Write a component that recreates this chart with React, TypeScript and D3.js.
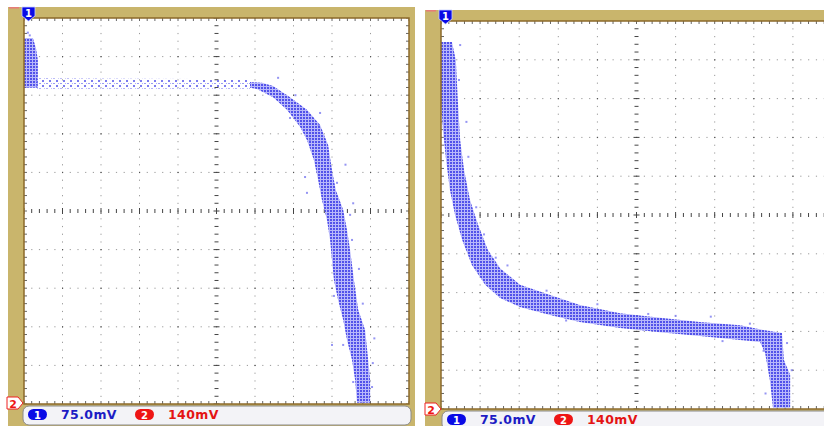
import React from 'react';
import * as d3 from 'd3';

type Pt = [number, number];

// Status bar: channel numbers and volts/div
const channelNames = ['1', '2'];
const channelScales = ['75.0mV', '140mV'];

// ---- Left screenshot (XY trace), coordinates in divisions (x: ch1, y: ch2) ----
const leftBlock: Pt[] = [
  [-5.0, 4.48], [-4.77, 4.48], [-4.69, 4.22], [-4.64, 3.91], [-4.64, 3.19], [-5.0, 3.19],
];
const leftPlateau: Pt[] = [
  [-4.69, 3.44], [0.87, 3.41], [0.87, 3.17], [-4.69, 3.17],
];
const leftCurve: Pt[] = [
  [0.87, 3.34], [1.18, 3.32], [1.47, 3.24], [1.91, 2.95], [2.35, 2.62], [2.69, 2.23],
  [2.9, 1.71], [3.0, 1.06], [3.1, 0.54], [3.29, 0.03], [3.39, -0.49], [3.47, -1.01],
  [3.57, -1.79], [3.68, -2.56], [3.86, -3.08], [3.94, -3.86], [3.99, -4.38], [3.99, -4.97],
  [3.65, -4.97], [3.6, -4.38], [3.52, -3.86], [3.39, -3.34], [3.29, -2.82], [3.16, -2.31],
  [3.05, -1.79], [3.0, -1.27], [2.95, -0.75], [2.87, -0.23], [2.74, 0.28], [2.64, 0.8],
  [2.53, 1.32], [2.35, 1.84], [2.17, 2.18], [1.83, 2.62], [1.47, 2.95], [1.05, 3.16], [0.87, 3.19],
];
const leftStrays: Pt[] = [
  [2.69, 2.54], [2.66, 2.23], [2.35, 0.47], [2.3, 0.88], [3.13, 0.73], [3.0, -3.47],
  [3.29, -3.47], [4.06, -3.94], [3.55, -4.43], [4.04, -4.56], [3.47, -0.1], [3.52, -0.75],
  [2.43, 1.84], [1.91, 2.41], [-4.9, 4.62], [-4.85, 4.55], [1.6, 3.45], [2.05, 3.0],
  [3.35, 1.2], [3.55, 0.2], [3.7, -1.5], [3.05, -2.2], [3.8, -2.4], [4.1, -3.3],
];

// ---- Right screenshot ----
const rightCurve: Pt[] = [
  [-5.0, 4.46], [-4.72, 4.46], [-4.62, 3.99], [-4.57, 2.96], [-4.51, 1.93], [-4.41, 1.16],
  [-4.26, 0.39], [-4.05, -0.26], [-3.8, -0.9], [-3.49, -1.37], [-2.98, -1.8], [-2.21, -2.06],
  [-1.45, -2.32], [-0.42, -2.53], [0.6, -2.65], [1.62, -2.76], [2.65, -2.84], [3.21, -2.96],
  [3.72, -3.04], [3.77, -3.74], [3.93, -4.12], [3.93, -4.97],
  [3.49, -4.97], [3.41, -4.25], [3.29, -3.56], [3.16, -3.27], [2.65, -3.22], [1.62, -3.12],
  [0.6, -3.02], [-0.42, -2.91], [-1.45, -2.76], [-2.21, -2.58], [-2.98, -2.37], [-3.49, -2.14],
  [-3.87, -1.8], [-4.21, -1.29], [-4.46, -0.64], [-4.64, 0.0], [-4.77, 0.64], [-4.87, 1.42],
  [-4.95, 2.19], [-5.0, 2.96],
];
const rightStrays: Pt[] = [
  [-4.51, 4.38], [-4.54, 3.48], [-4.3, 1.5], [-3.9, -0.5], [-3.3, -1.3], [-2.6, -2.2],
  [-1.0, -2.3], [0.3, -2.55], [1.9, -2.62], [3.85, -3.3], [3.97, -4.0], [3.3, -4.6],
  [-4.4, 0.9], [-3.6, -1.1], [2.2, -3.25], [-1.8, -2.72], [-4.35, 2.4], [-4.1, 0.2],
  [-2.3, -1.95], [1.0, -2.6], [2.9, -2.8], [3.25, -3.5],
];

interface Layout {
  ox: number; oy: number; ow: number; oh: number;
  px: number; py: number; pw: number; ph: number;
  sx: number; sy: number; sw: number;
  m1x: number; m1y: number; m2x: number; m2y: number;
}

const layouts: Layout[] = [
  { ox: 8, oy: 7, ow: 407, oh: 419, px: 24, py: 18, pw: 385, ph: 386, sx: 23, sy: 406, sw: 388, m1x: 22, m1y: 7, m2x: 7, m2y: 397 },
  { ox: 425, oy: 10, ow: 420, oh: 416, px: 441, py: 21, pw: 391, ph: 388, sx: 442, sy: 411, sw: 400, m1x: 439, m1y: 10, m2x: 425, m2y: 403 },
];

const TAN = '#c9b56c';
const BROWN = '#8c6a2a';

function Panel({ idx, bands, strays }: { idx: number; bands: { pts: Pt[]; fill: string }[]; strays: Pt[] }) {
  const L = layouts[idx];
  const x = d3.scaleLinear().domain([-5, 5]).range([L.px, L.px + L.pw]);
  const y = d3.scaleLinear().domain([-5, 5]).range([L.py + L.ph, L.py]);
  const line = d3.line<Pt>().x(d => x(d[0])).y(d => y(d[1])).curve(d3.curveLinearClosed);
  const subs = d3.range(0, 51).map(i => -5 + i * 0.2);
  const divs = d3.range(-4, 5).filter(v => v !== 0);
  const clipId = `clip${idx}`;
  const dots: JSX.Element[] = [];
  divs.forEach(v => {
    subs.forEach((s, j) => {
      const dark = j % 5 === 0;
      dots.push(<rect key={`v${v}_${j}`} x={x(v) - 0.5} y={y(s) - 0.5} width={1} height={1.2} fill={dark ? '#555' : '#9a9a9a'} />);
      dots.push(<rect key={`h${v}_${j}`} x={x(s) - 0.5} y={y(v) - 0.5} width={1.2} height={1} fill={dark ? '#555' : '#9a9a9a'} />);
    });
  });
  const ticks: JSX.Element[] = [];
  subs.forEach((s, j) => {
    const len = j % 5 === 0 ? 3 : 2;
    ticks.push(<line key={`cx${j}`} x1={x(s)} x2={x(s)} y1={y(0) - len} y2={y(0) + len} stroke="#444" strokeWidth={1} />);
    ticks.push(<line key={`cy${j}`} y1={y(s)} y2={y(s)} x1={x(0) - len} x2={x(0) + len} stroke="#444" strokeWidth={1} />);
    ticks.push(<line key={`t${j}`} x1={x(s)} x2={x(s)} y1={L.py} y2={L.py + 3} stroke="#666" strokeWidth={1} />);
    ticks.push(<line key={`b${j}`} x1={x(s)} x2={x(s)} y1={L.py + L.ph - 3} y2={L.py + L.ph} stroke="#666" strokeWidth={1} />);
    ticks.push(<line key={`l${j}`} y1={y(s)} y2={y(s)} x1={L.px} x2={L.px + 3} stroke="#666" strokeWidth={1} />);
    ticks.push(<line key={`r${j}`} y1={y(s)} y2={y(s)} x1={L.px + L.pw - 3} x2={L.px + L.pw} stroke="#666" strokeWidth={1} />);
  });
  const pillOff = [5, 112];
  const textOff = [38, 145];
  const pillColors = ['#0a0ae6', '#ee1515'];
  const textColors = ['#1c1cc4', '#e41414'];
  return (
    <g>
      <defs>
        <clipPath id={clipId}>
          <rect x={L.px} y={L.py} width={L.pw} height={L.ph} />
        </clipPath>
      </defs>
      <rect x={L.ox} y={L.oy} width={L.ow} height={L.oh} fill={TAN} />
      <line x1={L.ox + 1} x2={L.ox + 11} y1={L.oy + 0.8} y2={L.oy + 0.8} stroke="#e87a7a" strokeWidth={1.5} />
      <rect x={L.px} y={L.py} width={L.pw} height={L.ph} fill="#fff" />
      <g clipPath={`url(#${clipId})`}>
        {dots}
        {ticks}
        {bands.map((b, i) => (
          <path key={i} d={line(b.pts) || ''} fill={b.fill} />
        ))}
        {strays.map((p, i) => (
          <rect key={i} x={x(p[0]) - 1} y={y(p[1]) - 1} width={2} height={2} fill="#7a7af0" opacity={0.8} />
        ))}
      </g>
      <rect x={L.px} y={L.py} width={L.pw} height={L.ph} fill="none" stroke={BROWN} strokeWidth={1.5} />
      <path d={`M${L.m1x},${L.m1y} h13 v9 l-6.5,5 l-6.5,-5 Z`} fill="#0a0ae6" stroke="#c8d0ff" strokeWidth={0.8} />
      <text x={L.m1x + 6.5} y={L.m1y + 10} fontSize={10} fontWeight="bold" fill="#fff" textAnchor="middle" fontFamily="DejaVu Sans, sans-serif">{channelNames[0]}</text>
      <path d={`M${L.m2x},${L.m2y} h11 l5,6 l-5,6 h-11 Z`} fill="#fff" stroke="#ee2020" strokeWidth={1} />
      <text x={L.m2x + 6} y={L.m2y + 10.5} fontSize={11} fontWeight="bold" fill="#ee1515" textAnchor="middle" fontFamily="DejaVu Sans, sans-serif">{channelNames[1]}</text>
      <rect x={L.sx} y={L.sy} width={L.sw} height={19} rx={6} fill="#f3f3f7" stroke="#8a8a8a" strokeWidth={1} />
      {channelNames.map((n, i) => (
        <g key={n}>
          <rect x={L.sx + pillOff[i]} y={L.sy + 3} width={19} height={11} rx={5.5} fill={pillColors[i]} />
          <text x={L.sx + pillOff[i] + 9.5} y={L.sy + 12.5} fontSize={10} fontWeight="bold" fill="#fff" textAnchor="middle" fontFamily="DejaVu Sans, sans-serif">{n}</text>
          <text x={L.sx + textOff[i]} y={L.sy + 13} fontSize={12.5} fontWeight="bold" fill={textColors[i]} fontFamily="DejaVu Sans, sans-serif" letterSpacing={0.4}>{channelScales[i]}</text>
        </g>
      ))}
    </g>
  );
}

export default function App() {
  return (
    <svg width={824} height={426} style={{ position: 'absolute', left: 0, top: 0, background: '#fff' }}>
      <defs>
        <pattern id="dense" width={3} height={3} patternUnits="userSpaceOnUse">
          <rect width={3} height={3} fill="#b8b8fa" />
          <rect width={2} height={2} fill="#5252ea" />
        </pattern>
        <pattern id="sparse" width={7} height={5} patternUnits="userSpaceOnUse">
          <rect x={0} y={0} width={2} height={2} fill="#7c7cf0" />
          <rect x={4} y={3} width={2} height={1} fill="#9a9af4" />
          <rect x={2} y={3} width={1} height={1} fill="#b0b0f8" />
        </pattern>
      </defs>
      <Panel
        idx={0}
        bands={[
          { pts: leftBlock, fill: 'url(#dense)' },
          { pts: leftPlateau, fill: 'url(#sparse)' },
          { pts: leftCurve, fill: 'url(#dense)' },
        ]}
        strays={leftStrays}
      />
      <Panel idx={1} bands={[{ pts: rightCurve, fill: 'url(#dense)' }]} strays={rightStrays} />
    </svg>
  );
}
